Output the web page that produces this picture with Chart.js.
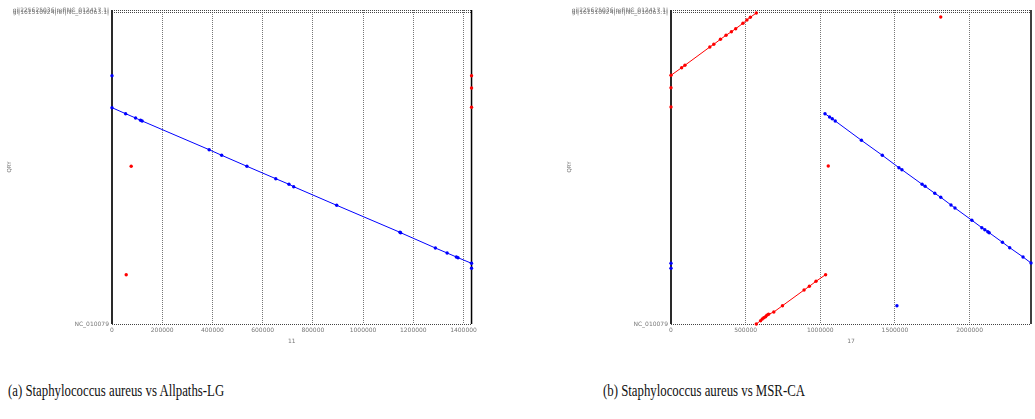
<!DOCTYPE html>
<html>
<head>
<meta charset="utf-8">
<script src="https://cdn.jsdelivr.net/npm/chart.js@4"></script>
<style>
  body { margin: 0; background: #fff; width: 1035px; height: 419px; position: relative; overflow: hidden; }
  .box { position: absolute; top: 0; height: 345px; }
  .cap { position: absolute; top: 382px; font-family: "Liberation Serif", "DejaVu Serif", serif; font-size: 16px; color: #111; white-space: nowrap; transform-origin: 0 0; transform: scaleX(0.8); }
</style>
</head>
<body>
<div class="box" style="left:0;width:480px"><canvas id="plotA"></canvas></div>
<div class="box" style="left:560px;width:475px"><canvas id="plotB"></canvas></div>
<div class="cap" style="left:8px">(a) Staphylococcus aureus vs Allpaths-LG</div>
<div class="cap" style="left:603px">(b) Staphylococcus aureus vs MSR-CA</div>
<script>
// y axis: reference sequences (query), shared by both plots
const yTicks = [0, 2875000, 2900000];
const yTickLabels = ['NC_010079', 'gi|161510924|ref|NC_010063.1|', 'gi|225625036|ref|NC_012417.1|'];
const yMax = 2900000;

// (a) Allpaths-LG, scaffold 11
const aXTicks = [0, 200000, 400000, 600000, 800000, 1000000, 1200000, 1400000];
const aXMax = 1432000;
const aRevX = [0, 54250, 93860, 113650, 120000, 386900, 436800, 537400, 652200, 704900, 723500, 895000, 1147000, 1149500, 1288000, 1334700, 1371500, 1378000, 1432000];
const aRevY = [1997800, 1942300, 1902600, 1881400, 1874900, 1609800, 1558100, 1456500, 1342000, 1290300, 1268100, 1096300, 846900, 843300, 701900, 655800, 618800, 612300, 560600];
const aBlueX = [0, 1432000];
const aBlueY = [2293300, 514400];
const aRedX = [76400, 56600, 1432000, 1432000, 1432000];
const aRedY = [1456500, 455300, 2293300, 2179700, 2001400];

// (b) MSR-CA, scaffold 17
const bXTicks = [0, 500000, 1000000, 1500000, 2000000];
const bXMax = 2411400;
const bFwd1X = [0, 71300, 93300, 260000, 286700, 331300, 368700, 404700, 433400, 482000, 508700, 531300, 571300];
const bFwd1Y = [2297000, 2367200, 2389300, 2558400, 2583300, 2629500, 2666400, 2699700, 2727400, 2777200, 2807700, 2832600, 2872400];
const bFwd2X = [571300, 600000, 611300, 622000, 633400, 642000, 653400, 688700, 746700, 891300, 926700, 971300, 1035500];
const bFwd2Y = [0, 30500, 46200, 58200, 67400, 80400, 89600, 110800, 169000, 314000, 348200, 394400, 455300];
const bRevX = [1031400, 1062000, 1080000, 1100000, 1275400, 1415400, 1526700, 1546700, 1682100, 1702100, 1766800, 1806800, 1875400, 1902100, 2015400, 2082100, 2102100, 2122100, 2131400, 2220100, 2268800, 2358100, 2411400];
const bRevY = [1942300, 1911900, 1896200, 1874900, 1696600, 1558100, 1443600, 1425100, 1290300, 1271800, 1207200, 1170200, 1099100, 1071400, 957800, 889400, 870900, 852500, 843300, 754600, 704700, 618800, 563400];
const bRedX = [0, 0, 1053400, 1806800];
const bRedY = [2182500, 2004200, 1459300, 2835500];
const bBlueX = [0, 0, 1513400];
const bBlueY = [560600, 514400, 169000];

const RED = 'rgb(255, 0, 0)';
const BLUE = 'rgb(0, 0, 255)';

function pts(xs, ys) {
    return xs.map((x, i) => ({ x: x, y: ys[i] }));
}

function series(xs, ys, color, line) {
    return {
        data: pts(xs, ys),
        showLine: line,
        borderColor: color,
        backgroundColor: color,
        borderWidth: 1,
        pointRadius: 1.7,
        pointBorderWidth: 0,
        clip: 3
    };
}

// solid left/right frame, like gnuplot's border (under the marks)
const framePlugin = {
    id: 'frame',
    beforeDatasetsDraw(chart) {
        const a = chart.chartArea, ctx = chart.ctx;
        ctx.save();
        ctx.strokeStyle = '#2a2a2a';
        ctx.lineWidth = 2;
        ctx.beginPath();
        ctx.moveTo(a.left, a.top);
        ctx.lineTo(a.left, a.bottom);
        ctx.stroke();
        ctx.strokeStyle = '#000';
        ctx.lineWidth = 1.5;
        ctx.beginPath();
        ctx.moveTo(a.right, a.top);
        ctx.lineTo(a.right, a.bottom);
        ctx.stroke();
        ctx.restore();
    }
};

const tickFont = { size: 6, family: 'DejaVu Sans' };

function makePlot(id, datasets, xTicks, xMax, xTitle, yWidth, padRight) {
    const ctx = document.getElementById(id).getContext('2d');
    new Chart(ctx, {
        type: 'scatter',
        data: { datasets: datasets },
        plugins: [framePlugin],
        options: {
            responsive: true,
            maintainAspectRatio: false,
            animation: false,
            layout: { padding: { top: 10, right: padRight, left: 0, bottom: 0 } },
            plugins: {
                legend: { display: false },
                tooltip: { enabled: false }
            },
            scales: {
                x: {
                    type: 'linear',
                    min: 0,
                    max: xMax,
                    afterBuildTicks: s => { s.ticks = xTicks.map(v => ({ value: v })); },
                    afterFit: s => { s.height = 21; },
                    border: { display: false, dash: [1, 1] },
                    grid: { color: '#777', drawTicks: false, lineWidth: 1 },
                    ticks: {
                        color: '#777',
                        font: tickFont,
                        padding: 3,
                        maxRotation: 0,
                        autoSkip: false,
                        callback: v => String(v)
                    },
                    title: { display: true, text: xTitle, color: '#777', font: tickFont, padding: 0 }
                },
                y: {
                    type: 'linear',
                    min: 0,
                    max: yMax,
                    afterBuildTicks: s => { s.ticks = yTicks.map(v => ({ value: v })); },
                    afterFit: s => { s.width = yWidth; },
                    border: { display: false, dash: [1, 1] },
                    grid: { color: '#444', drawTicks: false, lineWidth: 1 },
                    ticks: {
                        color: '#777',
                        font: tickFont,
                        padding: 3,
                        autoSkip: false,
                        callback: v => yTickLabels[yTicks.indexOf(v)]
                    },
                    title: { display: true, text: 'QRY', color: '#777', font: { size: 5.5, family: 'DejaVu Sans' }, padding: { top: 6, bottom: 0 } }
                }
            }
        }
    });
}

makePlot('plotA', [
    series(aRevX, aRevY, BLUE, true),
    series(aBlueX, aBlueY, BLUE, false),
    series(aRedX, aRedY, RED, false)
], aXTicks, aXMax, '11', 112, 6);

makePlot('plotB', [
    series(bFwd1X, bFwd1Y, RED, true),
    series(bFwd2X, bFwd2Y, RED, true),
    series(bRevX, bRevY, BLUE, true),
    series(bRedX, bRedY, RED, false),
    series(bBlueX, bBlueY, BLUE, false)
], bXTicks, bXMax, '17', 111, 2);
</script>
</body>
</html>
